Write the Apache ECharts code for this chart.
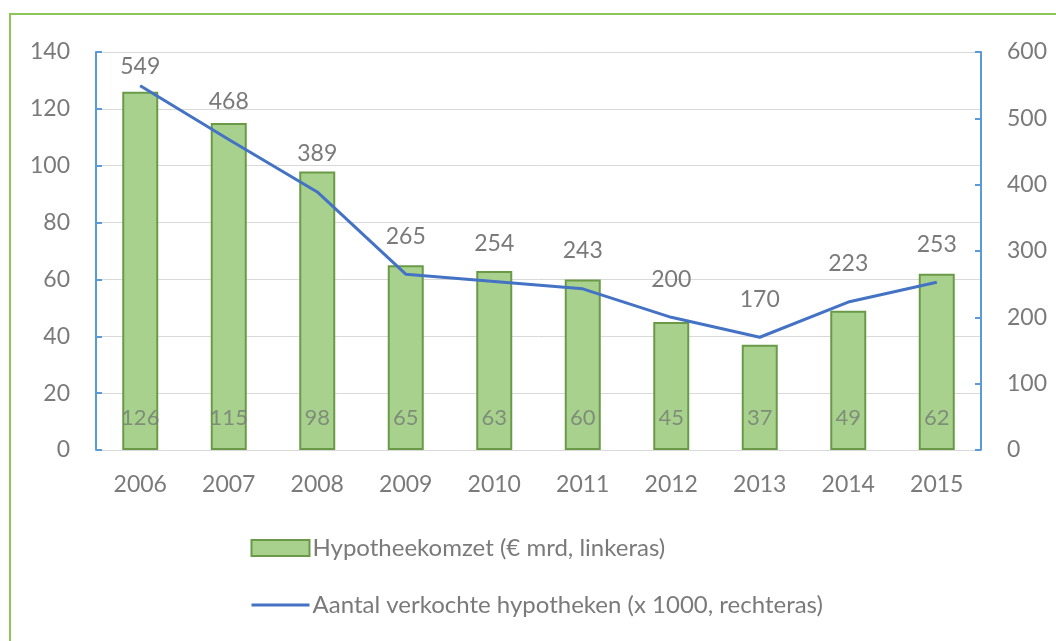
<!DOCTYPE html>
<html><head><meta charset="utf-8">
<script src="https://cdn.jsdelivr.net/npm/echarts@6/dist/echarts.min.js"></script>
<style>html,body{margin:0;padding:0;background:#fff}#c{width:1056px;height:641px}</style>
</head><body><div id="c"></div>
<script>
const years = ['2006','2007','2008','2009','2010','2011','2012','2013','2014','2015'];
const omzet = [126,115,98,65,63,60,45,37,49,62];
const aantal = [549,468,389,265,254,243,200,170,223,253];
const leftTicks = {min:0, max:140, interval:20};
const rightTicks = {min:0, max:600, interval:100};
const barName = 'Hypotheekomzet (€ mrd, linkeras)';
const lineName = 'Aantal verkochte hypotheken (x 1000, rechteras)';

const FONT = 'Lato, "Open Sans", sans-serif';
const GREY = '#7a7a7a';
const chart = echarts.init(document.getElementById('c'), null, {renderer:'canvas'});
const lineData = aantal.map((v,i)=> i===0 ? {value:v, label:{distance:7}} : v);
chart.setOption({
  animation:false,
  textStyle:{fontFamily:FONT},
  graphic:[{type:'rect', shape:{x:10,y:14,width:1100,height:700}, style:{fill:'none', stroke:'#8cc65a', lineWidth:2}, z:-10}],
  grid:{left:96, right:75, top:52, bottom:191},
  legend:{
    orient:'vertical', left:250, top:536, padding:0, itemWidth:58, itemHeight:16, itemGap:33,
    textStyle:{fontSize:24, color:GREY, fontFamily:FONT, padding:[0,0,0,-2]},
    data:[{name:barName, icon:'rect'}, {name:lineName, itemStyle:{opacity:0}, lineStyle:{width:3}}]
  },
  xAxis:{
    type:'category', data:years,
    axisLine:{lineStyle:{color:'#d9d9d9', width:1}},
    axisTick:{alignWithLabel:false, length:7, lineStyle:{color:'#d9d9d9'}},
    axisLabel:{fontSize:23, color:GREY, margin:23, fontFamily:FONT}
  },
  yAxis:[{
    type:'value', min:leftTicks.min, max:leftTicks.max, interval:leftTicks.interval, position:'left',
    axisLine:{show:true, lineStyle:{color:'#5b9bd5', width:2}},
    axisTick:{show:true, inside:true, length:6, lineStyle:{color:'#5b9bd5', width:2}},
    axisLabel:{fontSize:23, color:GREY, margin:26, fontFamily:FONT},
    splitLine:{lineStyle:{color:'#d9d9d9', width:1}}
  },{
    type:'value', min:rightTicks.min, max:rightTicks.max, interval:rightTicks.interval, position:'right',
    axisLine:{show:true, lineStyle:{color:'#5b9bd5', width:2}},
    axisTick:{show:true, inside:true, length:6, lineStyle:{color:'#5b9bd5', width:2}},
    axisLabel:{fontSize:23, color:GREY, margin:26, fontFamily:FONT},
    splitLine:{show:false}
  }],
  series:[{
    name:barName, type:'bar', data:omzet, yAxisIndex:0, barWidth:36,
    itemStyle:{color:'#a9d18e', borderColor:'#6a9a48', borderWidth:2},
    label:{show:true, position:'insideBottom', distance:21, fontSize:22, color:'rgba(115,125,115,0.8)', fontFamily:FONT}
  },{
    name:lineName, type:'line', data:lineData, yAxisIndex:1, symbol:'circle', symbolSize:1, showSymbol:true,
    lineStyle:{color:'#4472c4', width:3}, itemStyle:{color:'#4472c4'},
    label:{show:true, position:'top', distance:26, fontSize:23, color:GREY, fontFamily:FONT},
    z:5
  }]
});
</script></body></html>
